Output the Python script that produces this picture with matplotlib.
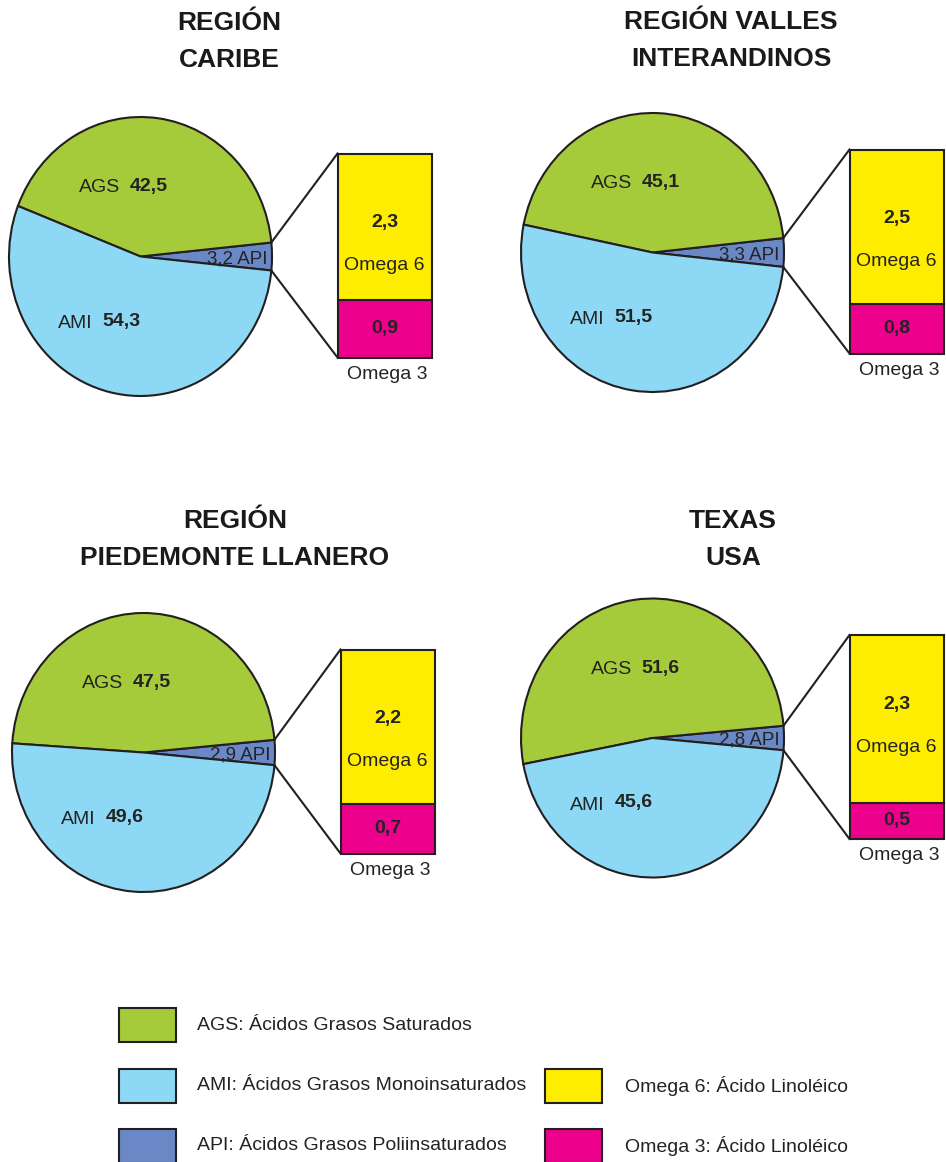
import math
import matplotlib.pyplot as plt
from matplotlib.patches import Rectangle

plt.rcParams['font.family'] = ['Liberation Sans Narrow', 'Liberation Sans', 'DejaVu Sans']

# Data
regions = ['REGIÓN\nCARIBE', 'REGIÓN VALLES\nINTERANDINOS',
           'REGIÓN\nPIEDEMONTE LLANERO', 'TEXAS\nUSA']
ags = [42.5, 45.1, 47.5, 51.6]
ami = [54.3, 51.5, 49.6, 45.6]
api = [3.2, 3.3, 2.9, 2.8]
omega6 = [2.3, 2.5, 2.2, 2.3]
omega3 = [0.9, 0.8, 0.7, 0.5]

legend_left = ['AGS: Ácidos Grasos Saturados',
               'AMI: Ácidos Grasos Monoinsaturados',
               'API: Ácidos Grasos Poliinsaturados']
legend_right = ['Omega 6: Ácido Linoléico', 'Omega 3: Ácido Linoléico']

# Colours
c_ags = '#A5CB3A'
c_ami = '#8DD8F5'
c_api = '#6A88C6'
c_o6 = '#FFED00'
c_o3 = '#EC008C'
edge = '#231F20'
txt = '#232323'

W, H = 946, 1162
# layout in pixel coordinates (measured from top); pies are slightly taller than wide
centers = [(140.5, 256.5), (652.5, 252.5), (143.5, 752.5), (652.5, 738)]
title_x = [229, 731, 235, 733]
title_y = [23, 22, 521, 521]
RX, RY = 131.5, 139.5
PAD = 1.03


def fmt(v):
    return f'{v:.1f}'.replace('.', ',')


fig = plt.figure(figsize=(W / 100, H / 100), dpi=100)
ax = fig.add_axes([0, 0, 1, 1])
ax.set_xlim(0, W)
ax.set_ylim(0, H)
ax.axis('off')
ax.set_zorder(10)  # text and bars above the pie axes

for i in range(4):
    cx, cy = centers[i][0], H - centers[i][1]
    half = api[i] * 1.8

    pax = fig.add_axes([(cx - PAD * RX) / W, (cy - PAD * RY) / H,
                        2 * PAD * RX / W, 2 * PAD * RY / H])
    pax.pie([api[i], ags[i], ami[i]], colors=[c_api, c_ags, c_ami],
            startangle=-half, counterclock=True, radius=1,
            wedgeprops=dict(edgecolor=edge, linewidth=1.5))
    pax.set_aspect('auto')
    pax.set_xlim(-PAD, PAD)
    pax.set_ylim(-PAD, PAD)
    pax.axis('off')

    # labels in the pie
    ax.text(cx - 41, cy + 69, 'AGS', fontsize=14, color=txt, ha='center', va='center')
    ax.text(cx + 8, cy + 70, fmt(ags[i]), fontsize=14, fontweight='bold',
            color=txt, ha='center', va='center')
    ax.text(cx - 65, cy - 67, 'AMI', fontsize=14, color=txt, ha='center', va='center')
    ax.text(cx - 19, cy - 65, fmt(ami[i]), fontsize=14, fontweight='bold',
            color=txt, ha='center', va='center')
    ax.text(cx + 127, cy - 2, fmt(api[i]) + ' API', fontsize=13.5, color=txt,
            ha='right', va='center')

    # bar of omega 6 / omega 3
    bx, bw, bh = cx + 197, 94, 204
    btop = cy + 1 + bh / 2
    bbot = cy + 1 - bh / 2
    tot = omega6[i] + omega3[i]
    h3 = bh * omega3[i] / tot
    h6 = bh * omega6[i] / tot
    ax.bar(bx + bw / 2, h3, width=bw, bottom=bbot, color=c_o3,
           edgecolor=edge, linewidth=1.5)
    ax.bar(bx + bw / 2, h6, width=bw, bottom=bbot + h3, color=c_o6,
           edgecolor=edge, linewidth=1.5)
    ax.text(bx + bw / 2, btop - 69, fmt(omega6[i]), fontsize=14, fontweight='bold',
            color=txt, ha='center', va='center')
    ax.text(bx + bw / 2, btop - 112, 'Omega 6', fontsize=14, color=txt,
            ha='center', va='center')
    ax.text(bx + bw / 2, bbot + h3 / 2, fmt(omega3[i]), fontsize=14, fontweight='bold',
            color=txt, ha='center', va='center')
    ax.text(bx + bw - 4, bbot - 17, 'Omega 3', fontsize=14, color=txt,
            ha='right', va='center')

    # connector lines from the API wedge to the bar
    ux = cx + RX * math.cos(math.radians(half))
    dy = RY * math.sin(math.radians(half))
    ax.plot([ux, bx], [cy + dy, btop], color=edge, linewidth=1.5)
    ax.plot([ux, bx], [cy - dy, bbot], color=edge, linewidth=1.5)

    # title
    for j, line in enumerate(regions[i].split('\n')):
        ax.text(title_x[i], H - title_y[i] - 37 * j, line, fontsize=19,
                fontweight='bold', family=['Liberation Sans', 'DejaVu Sans'],
                color='#1A1A1A', ha='center', va='center')

# legend
rows_y = [1025, 1086, 1146]
for k, (lab, col) in enumerate(zip(legend_left, [c_ags, c_ami, c_api])):
    ax.add_patch(Rectangle((119, H - rows_y[k] - 17), 57, 34, facecolor=col,
                           edgecolor=edge, linewidth=1.5))
    ax.text(197, H - rows_y[k], lab, fontsize=14, color=txt, ha='left', va='center')
for k, (lab, col) in enumerate(zip(legend_right, [c_o6, c_o3])):
    ax.add_patch(Rectangle((545, H - rows_y[k + 1] - 17), 57, 34, facecolor=col,
                           edgecolor=edge, linewidth=1.5))
    ax.text(625, H - rows_y[k + 1], lab, fontsize=14, color=txt, ha='left', va='center')

fig.savefig('out.png', dpi=100)
